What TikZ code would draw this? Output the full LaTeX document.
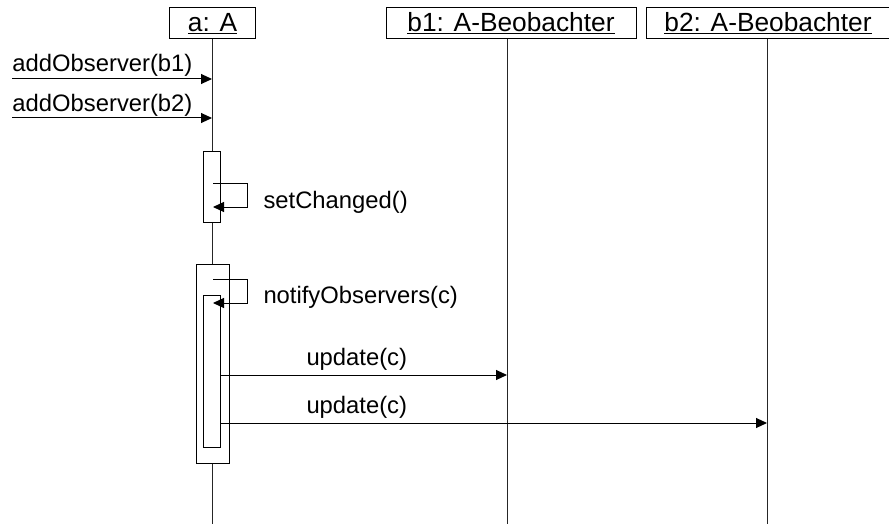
\documentclass[tikz,border=0pt]{standalone}
\usepackage{fontspec}
\setmainfont{Liberation Sans}
\usetikzlibrary{arrows.meta}
\begin{document}
\begin{tikzpicture}[x=1pt,y=-1pt,line width=1pt,
  msg/.style={-{Triangle[length=11pt,width=10pt]}},
  lbl/.style={font=\fontsize{23.8}{28}\selectfont,inner sep=0pt},
  head/.style={draw,fill=white,minimum height=31pt,inner sep=0pt,font=\fontsize{26.3}{31}\selectfont},
  lifeline/.style={draw=black!85},
  act/.style={draw,fill=white,inner sep=0pt}]
\useasboundingbox (0,0) rectangle (889,524);
\begin{scope}
\clip (0,0) rectangle (889,524);
% headers
\node[head,minimum width=86pt] (a) at (212.5,23.5) {\underline{a: A}};
\node[head,minimum width=250pt] (b1) at (511,23.5) {\underline{b1: A-Beobachter}};
\node[head,minimum width=244pt] (b2) at (768,23.5) {\underline{b2: A-Beobachter}};
\end{scope}
% lifeline ends
\coordinate (aend) at (212,524);
\coordinate (b1top) at (507,39);
\coordinate (b1end) at (507,524);
\coordinate (b2top) at (767,39);
\coordinate (b2end) at (767,524);
\draw[lifeline] (a.south -| aend) -- (aend);
\draw[lifeline] (b1top) -- (b1end);
\draw[lifeline] (b2top) -- (b2end);
% activations
\node[act,minimum width=17pt,minimum height=70pt] (act1) at (211.5,187) {};
\node[act,minimum width=33pt,minimum height=199pt] (act2) at (212.5,363.5) {};
\node[act,minimum width=17pt,minimum height=152pt] (act3) at (211.5,371) {};
% incoming messages
\coordinate (s1) at (12,79);
\coordinate (s2) at (12,118);
\draw[msg] (s1) -- (s1 -| aend);
\draw[msg] (s2) -- (s2 -| aend);
\node[lbl,anchor=base west] (m1) at (12,72) {addObserver(b1)};
\node[lbl,anchor=base west] (m2) at (12,111.5) {addObserver(b2)};
% self call 1
\coordinate (sc1a) at (213,183);
\coordinate (sc1b) at (247,183);
\coordinate (sc1c) at (247,207);
\coordinate (sc1d) at (213,207);
\draw[msg] (sc1a) -- (sc1b) -- (sc1c) -- (sc1d);
\node[lbl,anchor=base west] (m3) at (263,208.3) {setChanged()};
% self call 2
\coordinate (sc2a) at (213,279);
\coordinate (sc2b) at (247,279);
\coordinate (sc2c) at (247,303);
\coordinate (sc2d) at (213,303);
\draw[msg] (sc2a) -- (sc2b) -- (sc2c) -- (sc2d);
\node[lbl,anchor=base west] (m4) at (263,303.3) {notifyObservers(c)};
% updates
\coordinate (u1) at (220,375);
\coordinate (u2) at (220,423);
\draw[msg] (u1) -- (u1 -| b1end);
\draw[msg] (u2) -- (u2 -| b2end);
\node[lbl,anchor=base west] (m5) at (306,365.7) {update(c)};
\node[lbl,anchor=base west] (m6) at (306,413.3) {update(c)};
\end{tikzpicture}
\end{document}
